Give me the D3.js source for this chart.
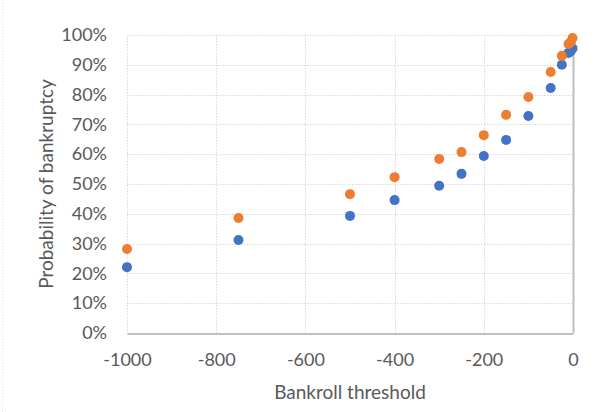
<!DOCTYPE html>
<html>
<head>
<meta charset="utf-8">
<script src="https://cdn.jsdelivr.net/npm/d3@7"></script>
<style>
  body { margin: 0; background: #fff; }
  text { font-family: Lato, "Open Sans", sans-serif; fill: #595959; }
</style>
</head>
<body>
<div class="canvas"></div>
<script>
// bankroll thresholds (x) and bankruptcy probabilities for the two series
const thresholds = [-1000, -750, -500, -400, -300, -250, -200, -150, -100, -50, -25, -10, -5, -1];
const blueProb   = [0.221, 0.312, 0.393, 0.446, 0.494, 0.534, 0.594, 0.648, 0.728, 0.822, 0.900, 0.940, 0.946, 0.955];
const orangeProb = [0.282, 0.386, 0.466, 0.523, 0.584, 0.607, 0.664, 0.732, 0.792, 0.876, 0.930, 0.970, 0.976, 0.990];
const xTicks = [-1000, -800, -600, -400, -200, 0];
const yTicks = [0, 0.1, 0.2, 0.3, 0.4, 0.5, 0.6, 0.7, 0.8, 0.9, 1];

const dims = { width: 597, height: 412 };
const margin = { left: 127, right: 24, top: 35, bottom: 79 };

const svg = d3.select('.canvas')
    .append('svg')
    .attr('width', dims.width)
    .attr('height', dims.height);

// faint chart border on the left
svg.append('line')
    .attr('x1', 2.5).attr('x2', 2.5)
    .attr('y1', 0).attr('y2', dims.height)
    .attr('stroke', '#e4e4e4')
    .attr('stroke-dasharray', '1,2');

const x = d3.scaleLinear()
    .domain([-1000, 0])
    .range([margin.left, dims.width - margin.right]);

const y = d3.scaleLinear()
    .domain([0, 1])
    .range([dims.height - margin.bottom, margin.top]);

const graph = svg.append('g');

// dotted gridlines
graph.selectAll('.hgrid')
    .data(yTicks.filter(d => d > 0))
    .enter().append('line')
    .attr('class', 'hgrid')
    .attr('x1', x(-1000)).attr('x2', x(0))
    .attr('y1', d => Math.round(y(d)) + 0.5)
    .attr('y2', d => Math.round(y(d)) + 0.5)
    .attr('stroke', '#d9d9d9')
    .attr('stroke-dasharray', '1.5,1.5');

graph.selectAll('.vgrid')
    .data(xTicks.filter(d => d < 0))
    .enter().append('line')
    .attr('class', 'vgrid')
    .attr('x1', d => Math.round(x(d)) + 0.5)
    .attr('x2', d => Math.round(x(d)) + 0.5)
    .attr('y1', y(1)).attr('y2', y(0))
    .attr('stroke', '#d9d9d9')
    .attr('stroke-dasharray', '1.5,1.5');

// axes (labels drawn on the left / bottom, vertical axis line at x = 0)
const xAxis = graph.append('g')
    .attr('transform', `translate(0, ${Math.round(y(0)) + 0.5})`)
    .call(d3.axisBottom(x).tickValues(xTicks).tickSize(0).tickPadding(20).tickFormat(d3.format('d')));
xAxis.select('.domain').attr('stroke', '#bfbfbf').attr('stroke-width', 2);
xAxis.selectAll('text').style('font-size', '18px').attr('fill', '#595959').text(d => d < 0 ? '-' + Math.abs(d) : d);

const yAxis = graph.append('g')
    .attr('transform', `translate(${x(-1000) - 20}, 0)`)
    .call(d3.axisLeft(y).tickValues(yTicks).tickSize(0).tickPadding(0).tickFormat(d3.format('.0%')));
yAxis.select('.domain').remove();
yAxis.selectAll('text').style('font-size', '18px').attr('fill', '#595959');

graph.append('line')
    .attr('x1', Math.round(x(0)) + 0.5).attr('x2', Math.round(x(0)) + 0.5)
    .attr('y1', y(1)).attr('y2', y(0))
    .attr('stroke', '#bfbfbf')
    .attr('stroke-width', 2);

// points
const series = [
    { values: blueProb, color: '#4472C4' },
    { values: orangeProb, color: '#ED7D31' }
];

series.forEach(s => {
    graph.append('g')
        .selectAll('circle')
        .data(thresholds.map((t, i) => [t, s.values[i]]))
        .enter().append('circle')
        .attr('cx', d => x(d[0]))
        .attr('cy', d => y(d[1]))
        .attr('r', 5)
        .attr('fill', s.color);
});

// axis titles
svg.append('text')
    .attr('x', (x(-1000) + x(0)) / 2)
    .attr('y', 399)
    .attr('text-anchor', 'middle')
    .style('font-size', '19px')
    .text('Bankroll threshold');

svg.append('text')
    .attr('transform', `translate(53, ${(y(0) + y(1)) / 2}) rotate(-90)`)
    .attr('text-anchor', 'middle')
    .style('font-size', '19px')
    .text('Probability of bankruptcy');
</script>
</body>
</html>
